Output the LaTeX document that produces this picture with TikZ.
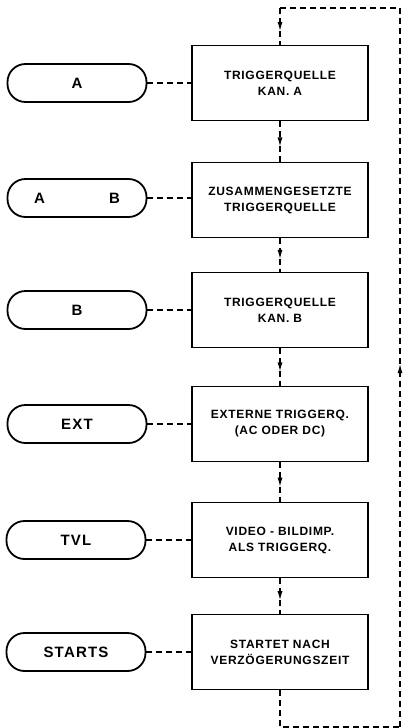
\documentclass[tikz,border=0pt]{standalone}
\usepackage{fontspec}
\setmainfont{Liberation Sans}
\newfontfamily\boxfont[LetterSpace=6]{Liberation Sans}
\newfontfamily\pillfont[LetterSpace=8]{Liberation Sans}
\usetikzlibrary{arrows.meta,calc}
\begin{document}
\begin{tikzpicture}[x=1pt,y=-1pt,
  stepbox/.style={draw,line width=1.8pt,minimum width=176pt,minimum height=75pt,inner sep=0pt,align=center,font=\boxfont\bfseries\fontsize{12}{16}\selectfont},
  pill/.style={draw,line width=1.8pt,rounded corners=18pt,minimum width=139pt,minimum height=38pt,inner sep=0pt,font=\pillfont\bfseries\fontsize{15}{17}\selectfont},
  link/.style={line width=1.1pt,dash pattern=on 6pt off 4pt},
  tipped/.style={link,-{Latex[length=9pt,width=5pt]}}
]
\useasboundingbox (0,0) rectangle (403,728);
\node[stepbox] (b1) at (280,83) {TRIGGERQUELLE\\KAN. A};
\node[stepbox] (b2) at (280,200) {ZUSAMMENGESETZTE\\TRIGGERQUELLE};
\node[stepbox] (b3) at (280,310) {TRIGGERQUELLE\\KAN. B};
\node[stepbox] (b4) at (280,424) {EXTERNE TRIGGERQ.\\(AC ODER DC)};
\node[stepbox] (b5) at (280,540) {VIDEO - BILDIMP.\\ALS TRIGGERQ.};
\node[stepbox] (b6) at (280,652) {STARTET NACH\\VERZÖGERUNGSZEIT};
\node[pill] (p1) at (77,83) {A};
\node[pill] (p2) at (77,198) {A\hspace{64pt}B};
\node[pill] (p3) at (77,310) {B};
\node[pill] (p4) at (77,424) {EXT};
\node[pill] (p5) at (76,540) {TVL};
\node[pill] (p6) at (76,652) {STARTS};
\foreach \i in {1,...,6} \draw[link] (p\i.east) -- (b\i.west |- p\i.east);
\foreach \i/\j in {1/2,2/3,3/4,4/5,5/6} {
  \coordinate (m\i) at ($(b\i.south)!0.62!(b\j.north)$);
  \draw[tipped] (b\i.south) -- (m\i);
  \draw[link] (m\i) -- (b\j.north);
}
\coordinate (c1) at (280,727);
\coordinate (c2) at (400,727);
\coordinate (c3) at (400,8);
\coordinate (c4) at (280,8);
\coordinate (mr) at (400,364);
\coordinate (mt) at (280,31);
\draw[link] (b6.south) -- (c1) -- (c2);
\draw[tipped] (c2) -- (mr);
\draw[link] (mr) -- (c3) -- (c4);
\draw[tipped] (c4) -- (mt);
\draw[link] (mt) -- (b1.north);
\end{tikzpicture}
\end{document}
